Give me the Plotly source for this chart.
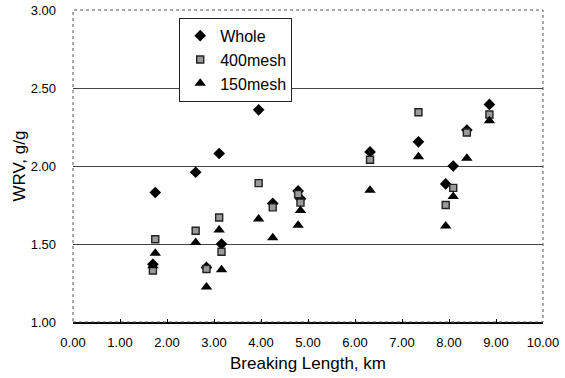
import plotly.graph_objects as go

breaking_length = [1.70, 1.75, 2.61, 2.84, 3.11, 3.16, 3.95, 4.25, 4.79, 4.84, 6.32, 7.35, 7.93, 8.09, 8.38, 8.86]
wrv_whole   = [1.37, 1.83, 1.96, 1.35, 2.08, 1.50, 2.36, 1.76, 1.84, 1.79, 2.09, 2.155, 1.885, 2.00, 2.23, 2.395]
wrv_400mesh = [1.33, 1.53, 1.585, 1.34, 1.67, 1.45, 1.89, 1.735, 1.82, 1.765, 2.04, 2.345, 1.75, 1.86, 2.215, 2.33]
wrv_150mesh = [1.36, 1.44, 1.51, 1.225, 1.59, 1.335, 1.66, 1.54, 1.62, 1.715, 1.845, 2.06, 1.615, 1.805, 2.05, 2.29]

x_ticks = [0, 1, 2, 3, 4, 5, 6, 7, 8, 9, 10]
y_ticks = [1.0, 1.5, 2.0, 2.5, 3.0]

FONT = "Liberation Sans, Arial, sans-serif"

fig = go.Figure()
fig.add_trace(go.Scatter(x=breaking_length, y=wrv_whole, mode="markers", name="Whole",
                         marker=dict(symbol="diamond", size=9, color="black")))
fig.add_trace(go.Scatter(x=breaking_length, y=wrv_400mesh, mode="markers", name="400mesh",
                         marker=dict(symbol="square", size=7, color="#9a9a9a",
                                     line=dict(color="#222222", width=1.4))))
fig.add_trace(go.Scatter(x=breaking_length, y=wrv_150mesh, mode="markers", name="150mesh",
                         marker=dict(symbol="triangle-up", size=10, color="black")))

fig.add_shape(type="rect", xref="x domain", yref="y domain", x0=0, x1=1, y0=0, y1=1,
              line=dict(color="#555555", width=1, dash="dot"), layer="above")

fig.update_layout(
    width=565, height=378,
    margin=dict(l=73, r=22, t=10, b=56, autoexpand=False),
    paper_bgcolor="white", plot_bgcolor="white",
    font=dict(family=FONT, color="black", size=13),
    showlegend=True,
    legend=dict(x=0.226, y=0.975, xanchor="left", yanchor="top",
                bordercolor="#222222", borderwidth=1, bgcolor="white",
                font=dict(family=FONT, size=16), itemwidth=30,
                tracegroupgap=0),
)
fig.update_xaxes(range=[0, 10], tickvals=x_ticks, tickformat=".2f",
                 showgrid=False, zeroline=False, showline=True, linecolor="black", linewidth=1.5,
                 ticks="inside", ticklen=3, tickcolor="black", ticklabelstandoff=8,
                 title=dict(text="Breaking Length, km", font=dict(family=FONT, size=17), standoff=8),
                 tickfont=dict(family=FONT, size=13))
fig.update_yaxes(range=[1, 3], tickvals=y_ticks, tickformat=".2f",
                 showgrid=True, gridcolor="#444444", gridwidth=1.4, zeroline=False, showline=False,
                 ticks="", ticklabelstandoff=16,
                 title=dict(text="WRV, g/g", font=dict(family=FONT, size=17), standoff=0),
                 tickfont=dict(family=FONT, size=13))

fig.write_html("out.html")
